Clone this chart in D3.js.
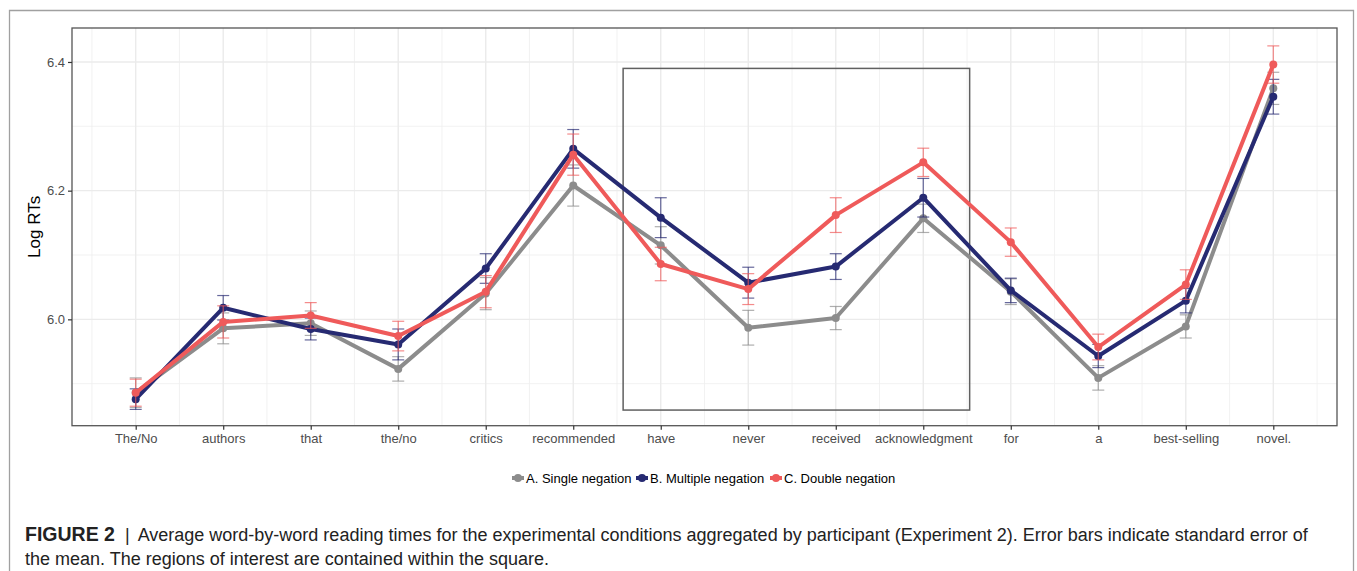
<!DOCTYPE html>
<html>
<head>
<meta charset="utf-8">
<script src="https://cdn.jsdelivr.net/npm/d3@7"></script>
<style>
  body { margin: 0; background: #fff; }
  svg { display: block; font-family: "Liberation Sans", Arial, Helvetica, sans-serif; }
</style>
</head>
<body>
<svg id="chart" width="1357" height="571"></svg>
<script>
// ---- data ----
const categories = ["The/No", "authors", "that", "the/no", "critics", "recommended", "have", "never", "received", "acknowledgment", "for", "a", "best-selling", "novel."];
const seriesNames = ["A. Single negation", "B. Multiple negation", "C. Double negation"];
const singleMean   = [5.886, 5.986, 5.994, 5.923, 6.040, 6.208, 6.115, 5.987, 6.002, 6.157, 6.043, 5.909, 5.989, 6.359];
const singleSE     = [0.023, 0.024, 0.019, 0.019, 0.025, 0.032, 0.029, 0.027, 0.018, 0.022, 0.020, 0.019, 0.018, 0.025];
const multipleMean = [5.876, 6.018, 5.985, 5.961, 6.079, 6.265, 6.158, 6.057, 6.082, 6.189, 6.045, 5.943, 6.029, 6.346];
const multipleSE   = [0.016, 0.019, 0.017, 0.024, 0.023, 0.030, 0.031, 0.024, 0.020, 0.030, 0.019, 0.018, 0.019, 0.027];
const doubleMean   = [5.886, 5.996, 6.006, 5.974, 6.043, 6.256, 6.086, 6.047, 6.162, 6.244, 6.120, 5.957, 6.054, 6.396];
const doubleSE     = [0.021, 0.025, 0.020, 0.023, 0.025, 0.032, 0.026, 0.024, 0.027, 0.022, 0.022, 0.020, 0.023, 0.029];
const yMajorTicks = [6.0, 6.2, 6.4];
const yMinorTicks = [5.9, 6.1, 6.3];
const regionX = [5.57, 9.53];   // category-index span of the region of interest
const regionY = [5.859, 6.39];
const yTitle = "Log RTs";
const captionBold = "FIGURE 2";
const captionLine1 = "Average word-by-word reading times for the experimental conditions aggregated by participant (Experiment 2). Error bars indicate standard error of";
const captionLine2 = "the mean. The regions of interest are contained within the square.";

// ---- layout ----
const svg = d3.select("#chart");
const P = { left: 72, right: 1337, top: 28, bottom: 425.7 };
const colors = ["#8c8c8c", "#262a72", "#ef5a5a"];

const series = [
  { name: seriesNames[0], mean: singleMean, se: singleSE, color: colors[0] },
  { name: seriesNames[1], mean: multipleMean, se: multipleSE, color: colors[1] },
  { name: seriesNames[2], mean: doubleMean, se: doubleSE, color: colors[2] }
];

const x = d3.scalePoint().domain(categories).range([P.left, P.right]).padding(0.728);
const step = x.step();
const y = d3.scaleLinear().domain([5.8347, 6.4528]).range([P.bottom, P.top]);
const xi = i => x(categories[0]) + i * step;

// outer figure frame
svg.append("path")
  .attr("d", `M9.5,575 V10.5 H1353.5 V575`)
  .attr("fill", "none").attr("stroke", "#a0a0a0").attr("stroke-width", 1.3);

// panel background
const g = svg.append("g");
g.append("rect").attr("x", P.left).attr("y", P.top)
  .attr("width", P.right - P.left).attr("height", P.bottom - P.top).attr("fill", "#fff");

// grid minor
const grid = g.append("g");
yMinorTicks.forEach(t => grid.append("line")
  .attr("x1", P.left).attr("x2", P.right).attr("y1", y(t)).attr("y2", y(t))
  .attr("stroke", "#efefef").attr("stroke-width", 0.8));
d3.range(categories.length + 1).forEach(i => {
  const xx = xi(i - 0.5);
  grid.append("line").attr("x1", xx).attr("x2", xx).attr("y1", P.top).attr("y2", P.bottom)
    .attr("stroke", "#efefef").attr("stroke-width", 0.8);
});
// grid major
yMajorTicks.forEach(t => grid.append("line")
  .attr("x1", P.left).attr("x2", P.right).attr("y1", y(t)).attr("y2", y(t))
  .attr("stroke", "#ebebeb").attr("stroke-width", 1.4));
categories.forEach(c => grid.append("line")
  .attr("x1", x(c)).attr("x2", x(c)).attr("y1", P.top).attr("y2", P.bottom)
  .attr("stroke", "#ebebeb").attr("stroke-width", 1.4));

// region of interest box
g.append("rect")
  .attr("x", xi(regionX[0])).attr("y", y(regionY[1]))
  .attr("width", xi(regionX[1]) - xi(regionX[0]))
  .attr("height", y(regionY[0]) - y(regionY[1]))
  .attr("fill", "none").attr("stroke", "#606060").attr("stroke-width", 1.5);

// series
const line = d3.line().x((d, i) => x(categories[i])).y(d => y(d));
series.forEach(s => {
  const sg = g.append("g");
  // error bars
  s.mean.forEach((m, i) => {
    const cx = x(categories[i]);
    const lo = y(m - s.se[i]), hi = y(m + s.se[i]);
    const eb = sg.append("g").attr("stroke", s.color).attr("stroke-opacity", 0.7).attr("stroke-width", 1.2);
    eb.append("line").attr("x1", cx).attr("x2", cx).attr("y1", lo).attr("y2", hi);
    eb.append("line").attr("x1", cx - 6).attr("x2", cx + 6).attr("y1", lo).attr("y2", lo);
    eb.append("line").attr("x1", cx - 6).attr("x2", cx + 6).attr("y1", hi).attr("y2", hi);
  });
  sg.append("path").datum(s.mean).attr("d", line)
    .attr("fill", "none").attr("stroke", s.color).attr("stroke-width", 4)
    .attr("stroke-linejoin", "round");
  sg.selectAll("circle").data(s.mean).join("circle")
    .attr("cx", (d, i) => x(categories[i])).attr("cy", d => y(d)).attr("r", 4)
    .attr("fill", s.color);
});

// panel border
g.append("rect").attr("x", P.left).attr("y", P.top)
  .attr("width", P.right - P.left).attr("height", P.bottom - P.top)
  .attr("fill", "none").attr("stroke", "#555").attr("stroke-width", 1.3);

// axes
const yAxis = g.append("g").attr("transform", `translate(${P.left},0)`)
  .call(d3.axisLeft(y).tickValues(yMajorTicks).tickFormat(d3.format(".1f")).tickSize(4).tickPadding(3));
const xAxis = g.append("g").attr("transform", `translate(0,${P.bottom})`)
  .call(d3.axisBottom(x).tickSize(4).tickPadding(4));
[yAxis, xAxis].forEach(a => {
  a.select(".domain").remove();
  a.selectAll(".tick line").attr("stroke", "#333").attr("stroke-width", 1.2);
  a.selectAll(".tick text").attr("fill", "#4d4d4d").style("font-size", "13px")
    .style("font-family", '"Liberation Sans", Arial, sans-serif');
});

// y title
svg.append("text").attr("transform", `translate(40,${(P.top + P.bottom) / 2}) rotate(-90)`)
  .attr("text-anchor", "middle").attr("fill", "#000").style("font-size", "17px").text(yTitle);

// legend
const leg = svg.append("g").attr("transform", "translate(0,478)");
const legX = [512, 636, 770];
series.forEach((s, i) => {
  const lg = leg.append("g").attr("transform", `translate(${legX[i]},0)`);
  lg.append("line").attr("x1", 0).attr("x2", 12).attr("y1", 0).attr("y2", 0)
    .attr("stroke", s.color).attr("stroke-width", 4);
  lg.append("circle").attr("cx", 6).attr("cy", 0).attr("r", 4).attr("fill", s.color);
  lg.append("text").attr("x", 14).attr("y", 0).attr("dy", "0.35em")
    .attr("fill", "#000").style("font-size", "13px").text(s.name);
});

// caption
const cap = svg.append("text").attr("x", 25).attr("y", 541).attr("fill", "#222")
  .style("font-size", "18px");
cap.append("tspan").style("font-weight", "bold").style("font-size", "19.5px").text(captionBold);
cap.append("tspan").text("\u00a0\u00a0|\u00a0");
cap.append("tspan").attr("dx", 3).text(captionLine1);
svg.append("text").attr("x", 25).attr("y", 565).attr("fill", "#222")
  .style("font-size", "18px").text(captionLine2);
</script>
</body>
</html>
